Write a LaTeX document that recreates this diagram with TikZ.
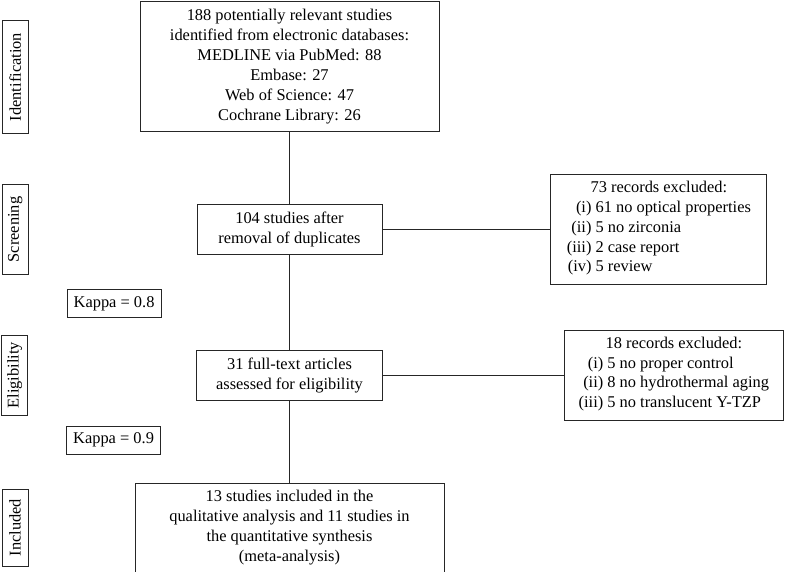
\documentclass[tikz,border=0pt]{standalone}
\usepackage{fontspec}
\setmainfont{Liberation Serif}
\usetikzlibrary{positioning}
\usepackage{graphicx}

\begin{document}
\begin{tikzpicture}[
        every node/.style={font=\fontsize{16.4}{19.9}\selectfont, inner sep=0pt},
        stage/.style={draw=black!85, line width=0.9pt, align=center},
        excl/.style={draw=black!85, line width=0.9pt, align=center},
        kappa/.style={draw=black!85, line width=0.9pt, minimum width=94pt, minimum height=28pt},
        phase/.style={draw=black!85, line width=0.9pt, minimum width=26pt},
        link/.style={draw=black!85, line width=0.9pt}
    ]
        \useasboundingbox (-289.5pt,66.5pt) rectangle (495.5pt,-504.5pt);
        \node[stage, minimum width=299pt, minimum height=130pt] (ident) {188 potentially relevant studies\\ identified from electronic databases:\\ MEDLINE via PubMed: 88\\ Embase: 27\\ Web of Science: 47\\ Cochrane Library: 26};
        \node[stage, minimum width=185pt, minimum height=50pt, below=72pt of ident] (screen) {104 studies after\\ removal of duplicates};
        \node[stage, minimum width=186pt, minimum height=50pt, below=95pt of screen] (elig) {31 full-text articles\\ assessed for eligibility};
        \node[stage, minimum width=309pt, minimum height=89pt, below=82pt of elig] (incl) {13 studies included in the\\ qualitative analysis and 11 studies in\\ the quantitative synthesis\\ (meta-analysis)};
        \node[excl, minimum width=216pt, minimum height=110pt, right=168pt of screen] (excla) {73 records excluded:\\ \begin{tabular}[t]{@{}r@{\ }l@{}}(i) & 61 no optical properties\\ (ii) & 5 no zirconia\\ (iii) & 2 case report\\ (iv) & 5 review\end{tabular}};
        \node[excl, minimum width=219pt, minimum height=90pt, right=181pt of elig] (exclb) {18 records excluded:\\ \begin{tabular}[t]{@{}r@{\ }l@{}}(i) & 5 no proper control\\ (ii) & 8 no hydrothermal aging\\ (iii) & 5 no translucent Y-TZP\end{tabular}};
        \node[kappa, below left=34pt and 35pt of screen] (kappaa) {Kappa = 0.8};
        \node[kappa, below left=25pt and 35pt of elig] (kappab) {Kappa = 0.9};
        \node[phase, minimum height=113pt, left=111pt of ident, yshift=-10.5pt] (lident) {\rotatebox{90}{Identification}};
        \node[phase, minimum height=90pt, left=168pt of screen] (lscreen) {\rotatebox{90}{Screening}};
        \node[phase, minimum height=80pt, left=168pt of elig] (lelig) {\rotatebox{90}{Eligibility}};
        \node[phase, minimum height=77pt, left=106pt of incl] (lincl) {\rotatebox{90}{Included}};
        \draw[link] (ident) -- (screen) -- (elig) -- (incl);
        \draw[link] (screen) -- (excla);
        \draw[link] (elig) -- (exclb);
\end{tikzpicture}
\end{document}
